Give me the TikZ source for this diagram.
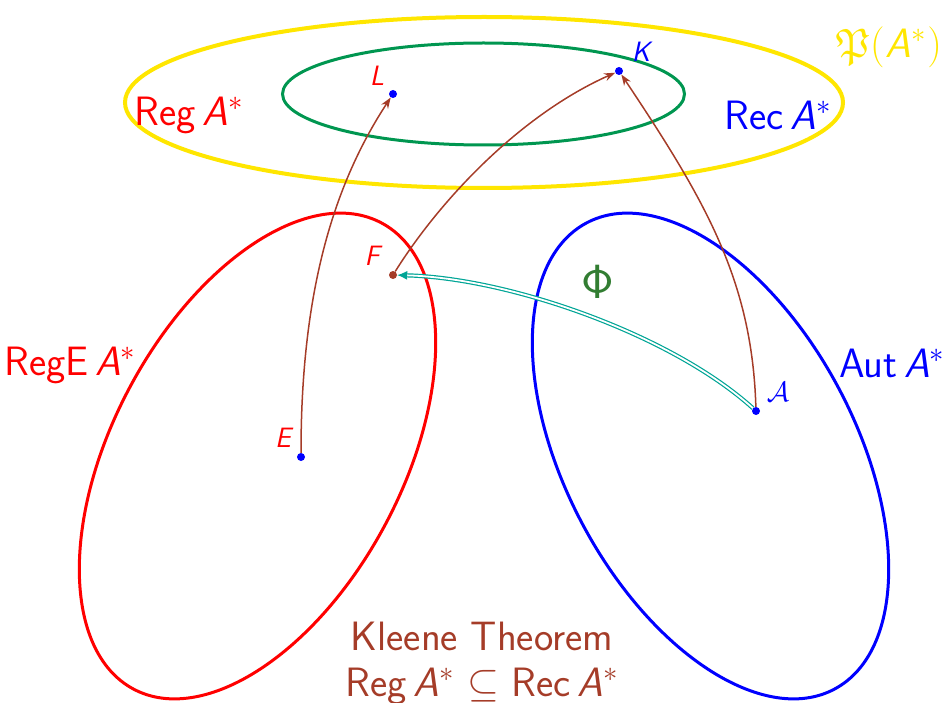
\RequirePackage{fix-cm}
\documentclass[tikz,border=0pt]{standalone}
\usepackage{amssymb}
\usetikzlibrary{arrows.meta}
\definecolor{kbrown}{RGB}{165,60,40}
\definecolor{kgreen}{RGB}{0,150,80}
\definecolor{kteal}{RGB}{0,165,150}
\definecolor{phigreen}{RGB}{50,125,50}
\definecolor{kyellow}{RGB}{255,230,0}
\newcommand{\sfi}[1]{\textsf{\itshape #1}}
\newcommand{\Ast}{\,\sfi{A}$^*$}
\begin{document}
\begin{tikzpicture}[x=1pt,y=-1pt,
  dot/.style={circle,fill,inner sep=0pt,minimum size=8pt},
  biglab/.style={font=\fontsize{41}{44}\selectfont\sffamily,inner sep=0pt},
  ptlab/.style={font=\fontsize{28}{32}\selectfont\sffamily\itshape,inner sep=0pt},
  arr/.style={kbrown,line width=1.5pt,-{Stealth[length=11pt,width=8pt]}}]
\useasboundingbox (0,0) rectangle (952,703);
% ellipses
\draw[kyellow,line width=4pt] (484,102.5) ellipse [x radius=359pt, y radius=85.5pt];
\draw[kgreen,line width=3pt] (483.5,94) ellipse [x radius=201pt, y radius=51pt];
\draw[red,line width=3pt,rotate around={62:(257.5,456)}] (257.5,456) ellipse [x radius=264pt, y radius=145pt];
\draw[blue,line width=3pt,rotate around={-62:(710.5,456)}] (710.5,456) ellipse [x radius=264pt, y radius=145pt];
% dots
\node[dot,blue] (L) at (393,94) {};
\node[dot,blue] (K) at (619,71) {};
\node[dot,kbrown] (F) at (393,275) {};
\node[dot,blue] (E) at (301,457) {};
\node[dot,blue] (A) at (756,411) {};
% point labels
\node[ptlab,red] (Ll) at (377,76) {L};
\node[ptlab,blue] (Kl) at (641,52) {K};
\node[ptlab,red] (Fl) at (372,256) {F};
\node[ptlab,red] (El) at (283,438) {E};
\node[ptlab,blue] (Al) at (778,392) {$\mathcal{A}$};
\node[font=\fontsize{48}{54}\selectfont,phigreen,inner sep=0pt] (phi) at (598,282) {$\mathsf{\Phi}$};
% set labels
\node[biglab,red] (reg) at (189,115.5) {Reg\Ast};
\node[biglab,blue] (rec) at (778,115.5) {Rec\Ast};
\node[font=\fontsize{41}{44}\selectfont\sffamily,inner sep=0pt,kyellow] (pow) at (889,47) {$\mathfrak{P}{\left(\rule[-0.25em]{0pt}{0.95em}\right.}$\sfi{A}$^*{\left.\rule[-0.25em]{0pt}{0.95em}\right)}$};
\node[biglab,red] (rege) at (70,365) {RegE\Ast};
\node[biglab,blue] (aut) at (892,363) {Aut\Ast};
\node[biglab,kbrown] (kl1) at (482,636.5) {Kleene Theorem};
\node[biglab,kbrown] (kl2) at (482,686) {Reg\Ast\ $\subseteq$ Rec\Ast};
% arrows
\draw[arr] (E) .. controls (301,300) and (330,190) .. (L);
\draw[arr] (F) .. controls (440,200) and (520,115) .. (K);
\draw[arr] (A) .. controls (752,280) and (705,200) .. (K);
\draw[kteal,double=white,double distance=1.8pt,line width=1.2pt,-{Latex[length=10pt,width=9pt]}] (A) .. controls (672,335) and (510,278) .. (F);
\end{tikzpicture}
\end{document}
